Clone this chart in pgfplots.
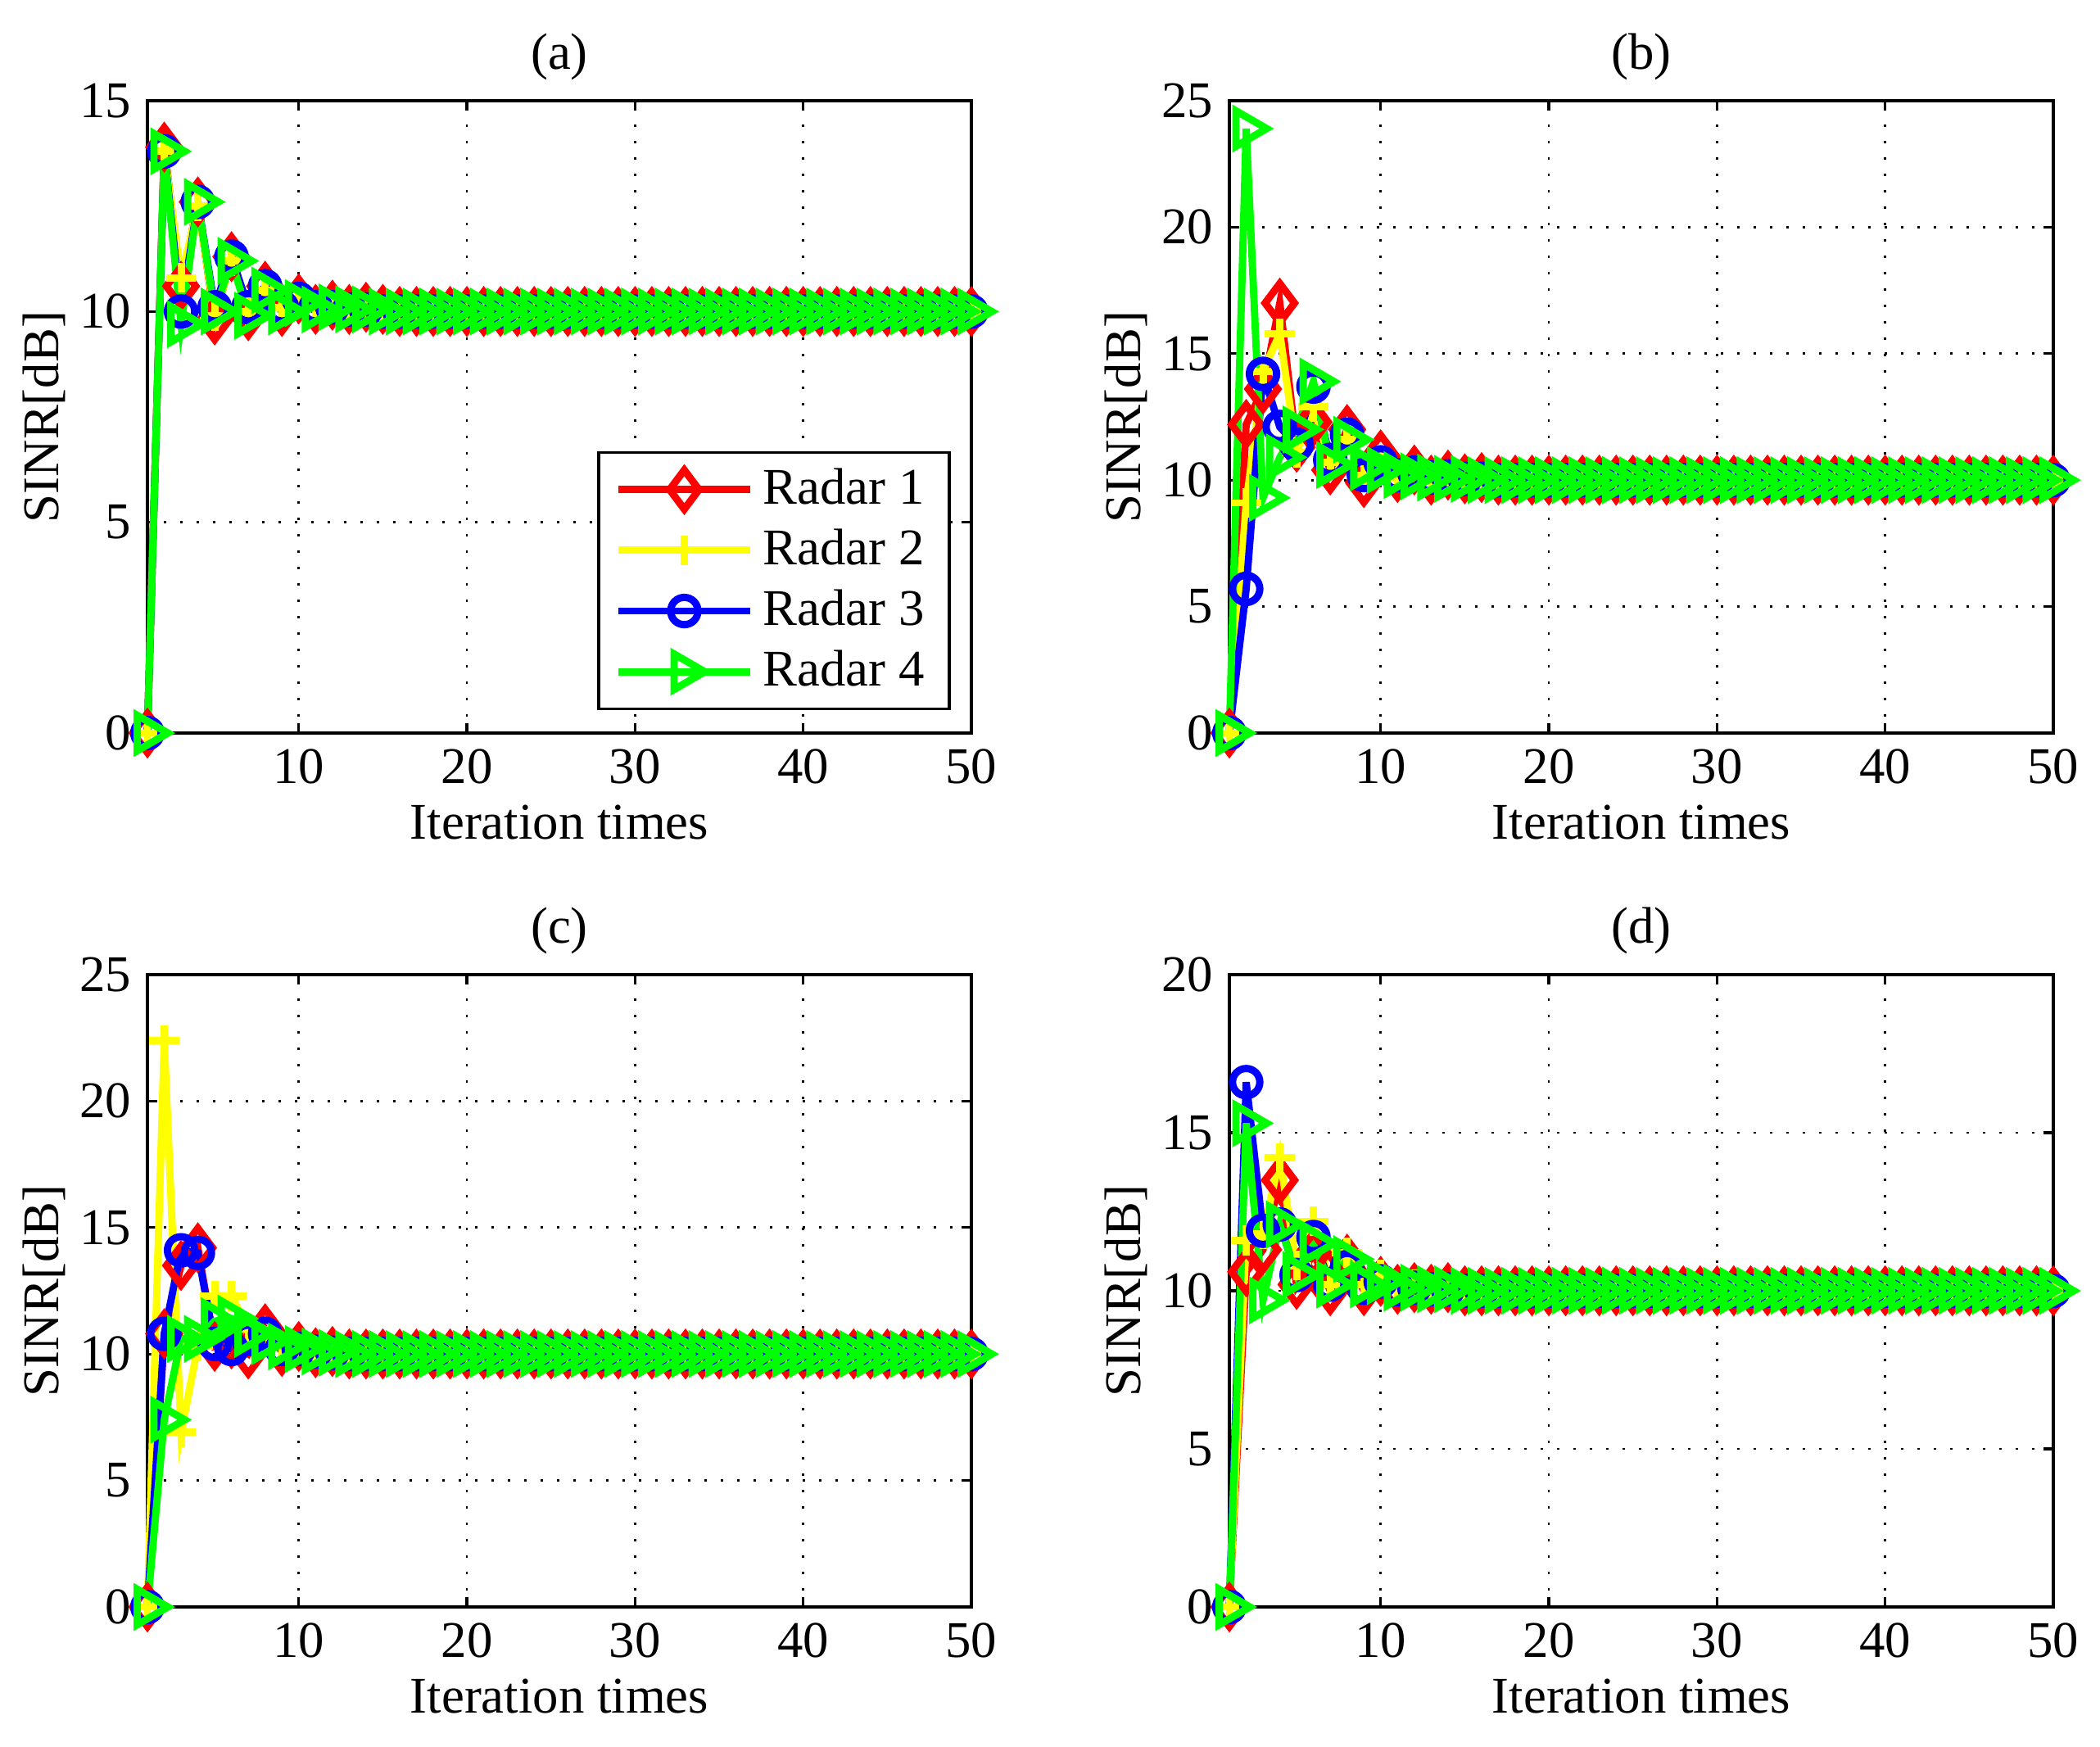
\documentclass[border=0pt]{standalone}
\usepackage{fontspec}
\setmainfont{Liberation Serif}
\usepackage{pgfplots}
\usepackage{pgfplotstable}
\pgfplotsset{compat=1.18}

\pgfplotstableread{
x r y b g
1 0 0 0 0
2 13.9 13.8 13.8 13.8
3 10.6 10.8 10.0 9.7
4 12.6 12.5 12.6 12.6
5 9.8 9.9 10.1 10.0
6 11.3 11.2 11.3 11.2
7 9.9 10.0 10.1 9.9
8 10.6 10.5 10.6 10.5
9 10.0 10.1 10.1 10.0
10 10.3 10.2 10.3 10.2
11 10.05 10.1 10.1 10.05
12 10.15 10.1 10.1 10.1
13 10.05 10.05 10.05 10.05
14 10.1 10.05 10.05 10.05
15 10.05 10.0 10.0 10.0
16 10 10 10 10
17 10 10 10 10
18 10 10 10 10
19 10 10 10 10
20 10 10 10 10
21 10 10 10 10
22 10 10 10 10
23 10 10 10 10
24 10 10 10 10
25 10 10 10 10
26 10 10 10 10
27 10 10 10 10
28 10 10 10 10
29 10 10 10 10
30 10 10 10 10
31 10 10 10 10
32 10 10 10 10
33 10 10 10 10
34 10 10 10 10
35 10 10 10 10
36 10 10 10 10
37 10 10 10 10
38 10 10 10 10
39 10 10 10 10
40 10 10 10 10
41 10 10 10 10
42 10 10 10 10
43 10 10 10 10
44 10 10 10 10
45 10 10 10 10
46 10 10 10 10
47 10 10 10 10
48 10 10 10 10
49 10 10 10 10
50 10 10 10 10
}\tabA

\pgfplotstableread{
x r y b g
1 0 0 0 0
2 12.2 9.1 5.7 23.9
3 13.6 14.3 14.2 9.3
4 17.0 15.8 12.1 10.9
5 11.3 11.1 11.4 12.0
6 12.3 12.9 13.7 13.9
7 10.4 10.7 10.8 10.6
8 12.0 11.6 11.8 11.6
9 9.9 10.2 10.2 10.5
10 11.0 10.8 10.7 10.4
11 10.1 10.1 10.2 10.2
12 10.4 10.4 10.3 10.15
13 10.0 10.1 10.1 10.1
14 10.2 10.2 10.15 10.05
15 10.05 10.05 10.05 10.05
16 10.1 10.05 10.05 10.0
17 10 10 10 10
18 10 10 10 10
19 10 10 10 10
20 10 10 10 10
21 10 10 10 10
22 10 10 10 10
23 10 10 10 10
24 10 10 10 10
25 10 10 10 10
26 10 10 10 10
27 10 10 10 10
28 10 10 10 10
29 10 10 10 10
30 10 10 10 10
31 10 10 10 10
32 10 10 10 10
33 10 10 10 10
34 10 10 10 10
35 10 10 10 10
36 10 10 10 10
37 10 10 10 10
38 10 10 10 10
39 10 10 10 10
40 10 10 10 10
41 10 10 10 10
42 10 10 10 10
43 10 10 10 10
44 10 10 10 10
45 10 10 10 10
46 10 10 10 10
47 10 10 10 10
48 10 10 10 10
49 10 10 10 10
50 10 10 10 10
}\tabB

\pgfplotstableread{
x r y b g
1 0 0 0 0
2 10.8 22.4 10.8 7.4
3 13.5 6.9 14.1 10.6
4 14.2 10.3 14.0 10.6
5 10.3 12.3 10.4 11.3
6 10.4 12.3 10.2 11.4
7 10.0 11.0 10.6 10.8
8 11.0 10.5 10.8 10.5
9 10.1 10.3 10.2 10.3
10 10.3 10.2 10.2 10.2
11 10.05 10.1 10.1 10.1
12 10.1 10.05 10.05 10.05
13 10 10 10 10
14 10 10 10 10
15 10 10 10 10
16 10 10 10 10
17 10 10 10 10
18 10 10 10 10
19 10 10 10 10
20 10 10 10 10
21 10 10 10 10
22 10 10 10 10
23 10 10 10 10
24 10 10 10 10
25 10 10 10 10
26 10 10 10 10
27 10 10 10 10
28 10 10 10 10
29 10 10 10 10
30 10 10 10 10
31 10 10 10 10
32 10 10 10 10
33 10 10 10 10
34 10 10 10 10
35 10 10 10 10
36 10 10 10 10
37 10 10 10 10
38 10 10 10 10
39 10 10 10 10
40 10 10 10 10
41 10 10 10 10
42 10 10 10 10
43 10 10 10 10
44 10 10 10 10
45 10 10 10 10
46 10 10 10 10
47 10 10 10 10
48 10 10 10 10
49 10 10 10 10
50 10 10 10 10
}\tabC

\pgfplotstableread{
x r y b g
1 0 0 0 0
2 10.6 11.6 16.6 15.3
3 11.3 11.8 11.9 9.7
4 13.5 14.2 12.1 12.1
5 10.2 10.8 10.5 10.5
6 11.2 12.2 11.7 11.5
7 10.0 10.2 10.2 10.2
8 11.0 11.2 10.75 11.0
9 10.0 10.2 10.1 10.2
10 10.3 10.5 10.3 10.3
11 10.05 10.1 10.05 10.1
12 10.1 10.2 10.1 10.1
13 10.05 10.05 10.05 10.05
14 10.1 10.1 10.05 10.05
15 10 10 10 10
16 10 10 10 10
17 10 10 10 10
18 10 10 10 10
19 10 10 10 10
20 10 10 10 10
21 10 10 10 10
22 10 10 10 10
23 10 10 10 10
24 10 10 10 10
25 10 10 10 10
26 10 10 10 10
27 10 10 10 10
28 10 10 10 10
29 10 10 10 10
30 10 10 10 10
31 10 10 10 10
32 10 10 10 10
33 10 10 10 10
34 10 10 10 10
35 10 10 10 10
36 10 10 10 10
37 10 10 10 10
38 10 10 10 10
39 10 10 10 10
40 10 10 10 10
41 10 10 10 10
42 10 10 10 10
43 10 10 10 10
44 10 10 10 10
45 10 10 10 10
46 10 10 10 10
47 10 10 10 10
48 10 10 10 10
49 10 10 10 10
50 10 10 10 10
}\tabD

\definecolor{mred}{rgb}{1,0,0}
\definecolor{myel}{rgb}{1,1,0}
\definecolor{mblue}{rgb}{0,0,1}
\definecolor{mgreen}{rgb}{0,1,0}

\pgfplotsset{
  radarax/.style={
    scale only axis, width=181.08pt, height=138.96pt,
    anchor=south west,
    xmin=1, xmax=50, xtick={10,20,30,40,50},
    grid=major,
    grid style={black, line width=0.5pt, dash pattern=on 0.6pt off 3pt},
    tick align=inside, major tick length=2.2pt,
    axis line style={line width=0.6pt},
    tick style={black, line width=0.6pt},
    clip=false,
    font=\fontsize{11.3}{13.5}\selectfont,
    ticklabel style={font=\fontsize{11.3}{13.5}\selectfont},
    /pgf/number format/assume math mode=true,
    xlabel={Iteration times}, ylabel={SINR[dB]},
    xlabel style={at={(axis description cs:0.5,-0.141)}, anchor=center},
    ylabel style={at={(axis description cs:-0.1254,0.5)}, anchor=center},
    title style={at={(axis description cs:0.5,1.026)}, anchor=center},
  },
  r1/.style={mred, line width=1.6pt, mark=diamond, mark size=4.3pt, mark options={solid, draw=mred, fill=none}},
  r2/.style={myel, line width=1.6pt, mark=+, mark size=3.3pt, mark options={solid, draw=myel}},
  r3/.style={mblue, line width=1.6pt, mark=o, mark size=3.0pt, mark options={solid, draw=mblue, fill=none}},
  r4/.style={mgreen, line width=1.6pt, mark=triangle, mark size=4.5pt, mark options={solid, draw=mgreen, fill=none, rotate=-90}},
}

\begin{document}
\begin{tikzpicture}
\useasboundingbox (0,0) rectangle (461.52pt,383.76pt);

\begin{axis}[radarax, at={(32.4pt,222.66pt)}, title={(a)},
  ymin=0, ymax=15, ytick={0,5,10,15},
  legend style={at={(axis description cs:0.975,0.036)}, anchor=south east,
    draw=black, line width=0.6pt, fill=white, font=\fontsize{11.3}{13.5}\selectfont,
    inner xsep=3.5pt, inner ysep=1.5pt, row sep=0pt},
  legend cell align=left,
  legend image code/.code={\draw[mark repeat=2,mark phase=2] plot coordinates {(0pt,0pt) (14.5pt,0pt) (29pt,0pt)};},
]
\addplot[r1] table[x=x,y=r]{\tabA};
\addplot[r2] table[x=x,y=y]{\tabA};
\addplot[r3] table[x=x,y=b]{\tabA};
\addplot[r4] table[x=x,y=g]{\tabA};
\legend{Radar 1, Radar 2, Radar 3, Radar 4}
\end{axis}

\begin{axis}[radarax, at={(270.18pt,222.66pt)}, title={(b)},
  ymin=0, ymax=25, ytick={0,5,10,15,20,25}]
\addplot[r1] table[x=x,y=r]{\tabB};
\addplot[r2] table[x=x,y=y]{\tabB};
\addplot[r3] table[x=x,y=b]{\tabB};
\addplot[r4] table[x=x,y=g]{\tabB};
\end{axis}

\begin{axis}[radarax, at={(32.4pt,30.6pt)}, title={(c)},
  ymin=0, ymax=25, ytick={0,5,10,15,20,25}]
\addplot[r1] table[x=x,y=r]{\tabC};
\addplot[r2] table[x=x,y=y]{\tabC};
\addplot[r3] table[x=x,y=b]{\tabC};
\addplot[r4] table[x=x,y=g]{\tabC};
\end{axis}

\begin{axis}[radarax, at={(270.18pt,30.6pt)}, title={(d)},
  ymin=0, ymax=20, ytick={0,5,10,15,20}]
\addplot[r1] table[x=x,y=r]{\tabD};
\addplot[r2] table[x=x,y=y]{\tabD};
\addplot[r3] table[x=x,y=b]{\tabD};
\addplot[r4] table[x=x,y=g]{\tabD};
\end{axis}
\end{tikzpicture}
\end{document}
